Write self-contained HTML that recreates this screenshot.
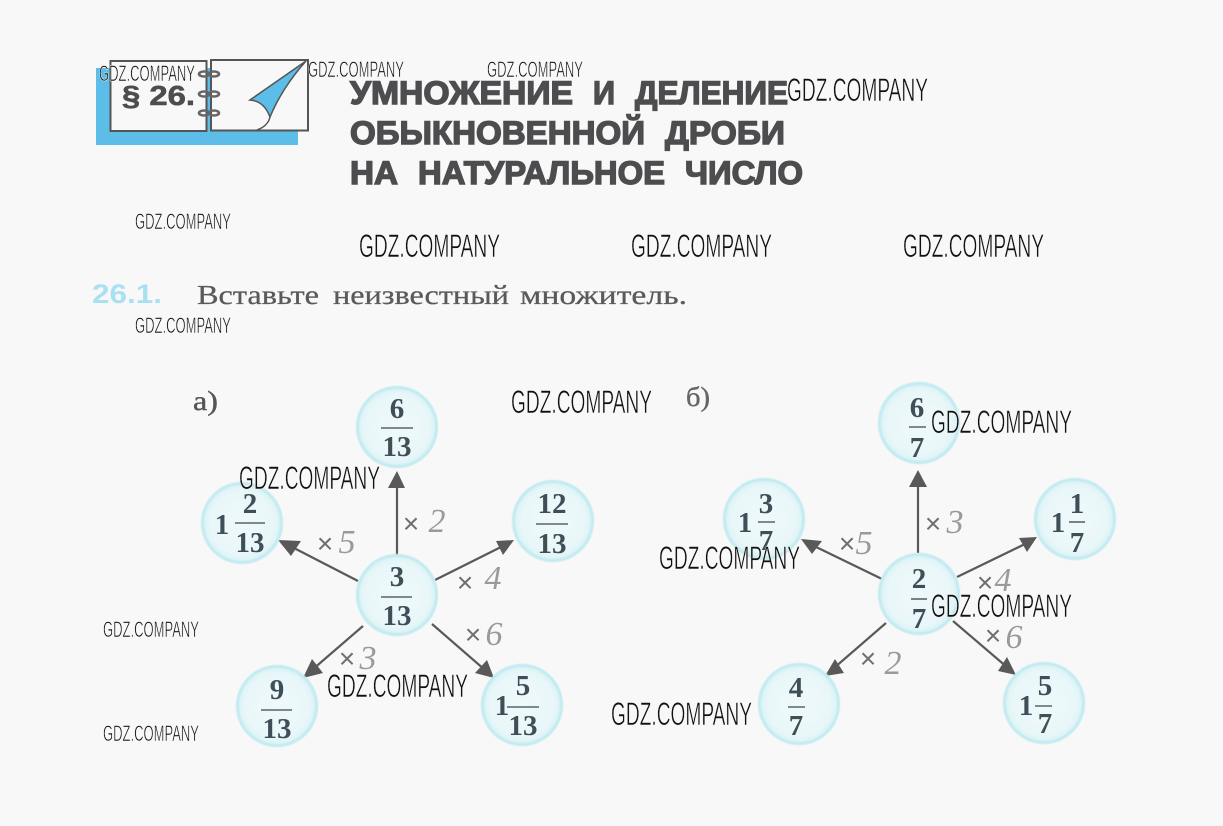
<!DOCTYPE html>
<html><head><meta charset="utf-8"><style>
html,body{margin:0;padding:0;background:#f8f8f8}
svg{display:block}
.w{font-family:"Liberation Sans",sans-serif;fill:#111;stroke:#f8f8f8;stroke-width:.55;font-weight:400}
.b{font-family:"Liberation Serif",serif;font-weight:700;fill:#3f4f57;font-size:29px;text-anchor:middle}
.t{font-family:"Liberation Sans",sans-serif;font-weight:700;fill:#4d4d4f;stroke:#4d4d4f;stroke-width:1.4;font-size:32px}
.x{font-family:"Liberation Sans",sans-serif;fill:#6f6f6f;font-size:28px;text-anchor:middle}
.h{font-family:"Liberation Serif",serif;font-style:italic;fill:#9a9a9a;font-size:34px;text-anchor:middle}
.s{font-family:"Liberation Serif",serif;font-size:27px;fill:#5a5a5a;stroke:#5a5a5a;stroke-width:.25}
</style></head><body>
<svg width="1223" height="826" viewBox="0 0 1223 826" xmlns="http://www.w3.org/2000/svg">
<defs>
<radialGradient id="g" cx="50%" cy="50%" r="50%"><stop offset="0" stop-color="#eff9fa"/><stop offset=".8" stop-color="#e9f7f9"/><stop offset="1" stop-color="#d8f2f6"/></radialGradient>
<filter id="bl" x="-10%" y="-10%" width="120%" height="120%"><feGaussianBlur stdDeviation=".6"/></filter>
<g id="c"><circle r="39.5" fill="url(#g)" stroke="#c4ebf1" stroke-width="3.2" filter="url(#bl)"/></g>
</defs>
<rect width="1223" height="826" fill="#f8f8f8"/>

<!-- header icon -->
<rect x="96" y="68" width="202" height="77" fill="#5cbde9"/>
<rect x="110.5" y="61" width="96" height="70" fill="#f8f8f8" stroke="#555" stroke-width="2"/>
<rect x="211" y="60" width="97" height="70.5" fill="#f8f8f8" stroke="#555" stroke-width="2"/>
<g fill="none" stroke="#666" stroke-width="2.6">
<ellipse cx="204" cy="74" rx="5" ry="2.5"/><ellipse cx="214" cy="74" rx="5" ry="2.5"/>
<ellipse cx="204" cy="94" rx="5" ry="2.5"/><ellipse cx="214" cy="94" rx="5" ry="2.5"/>
<ellipse cx="204" cy="113" rx="5" ry="2.5"/><ellipse cx="214" cy="113" rx="5" ry="2.5"/>
</g>
<text x="122" y="105" textLength="73" lengthAdjust="spacingAndGlyphs" style="font-family:'Liberation Sans',sans-serif;font-weight:700;font-size:28px;fill:#4d4d4f;stroke:#4d4d4f;stroke-width:.6">§ 26.</text>
<path d="M306 61 L250 100 Q264 101 270 117 Q282 88 306 61Z" fill="#5cbde9" stroke="#555" stroke-width="1.5"/>
<path d="M270 117 Q268 126 257 130" fill="none" stroke="#555" stroke-width="1.5"/>

<!-- title -->
<g class="t">
<text class="t" x="350" y="104" textLength="223" lengthAdjust="spacingAndGlyphs">УМНОЖЕНИЕ</text>
<text class="t" x="593" y="104" textLength="22" lengthAdjust="spacingAndGlyphs">И</text>
<text class="t" x="635" y="104" textLength="153" lengthAdjust="spacingAndGlyphs">ДЕЛЕНИЕ</text>
<text class="t" x="350" y="144" textLength="295" lengthAdjust="spacingAndGlyphs">ОБЫКНОВЕННОЙ</text>
<text class="t" x="665" y="144" textLength="120" lengthAdjust="spacingAndGlyphs">ДРОБИ</text>
<text class="t" x="350" y="184" textLength="48" lengthAdjust="spacingAndGlyphs">НА</text>
<text class="t" x="418" y="184" textLength="247" lengthAdjust="spacingAndGlyphs">НАТУРАЛЬНОЕ</text>
<text class="t" x="685" y="184" textLength="118" lengthAdjust="spacingAndGlyphs">ЧИСЛО</text>
</g>

<!-- task -->
<text x="92" y="303" textLength="70" lengthAdjust="spacingAndGlyphs" style="font-family:'Liberation Sans',sans-serif;font-weight:700;font-size:27px;fill:#a9e0f2">26.1.</text>
<text class="s" x="197" y="304" textLength="122" lengthAdjust="spacingAndGlyphs">Вставьте</text>
<text class="s" x="333" y="304" textLength="176" lengthAdjust="spacingAndGlyphs">неизвестный</text>
<text class="s" x="520" y="304" textLength="167" lengthAdjust="spacingAndGlyphs">множитель.</text>
<text x="193" y="410" textLength="25" lengthAdjust="spacingAndGlyphs" style="font-family:'Liberation Serif',serif;font-size:27px;fill:#555;stroke:#555;stroke-width:.4">а)</text>
<text x="686" y="406" textLength="24" lengthAdjust="spacingAndGlyphs" style="font-family:'Liberation Serif',serif;font-size:27px;fill:#666;stroke:#666;stroke-width:.4">б)</text>

<!-- arrows a -->
<g stroke="#595959" stroke-width="2.2" fill="#595959">
<line x1="397" y1="556" x2="397" y2="485"/><polygon points="397,471 388,488 405,488" stroke="none"/>
<line x1="358" y1="581" x2="292" y2="547"/><polygon points="278,540 301,541 291,556" stroke="none"/>
<line x1="435" y1="580" x2="503" y2="546"/><polygon points="514,540 496,541 503,555" stroke="none"/>
<line x1="363" y1="626" x2="312" y2="670"/><polygon points="303,678 312,659 323,673" stroke="none"/>
<line x1="432" y1="624" x2="485" y2="670"/><polygon points="494,678 487,660 475,673" stroke="none"/>
<!-- arrows b -->
<line x1="918" y1="553" x2="918" y2="485"/><polygon points="918,470 909,487 927,487" stroke="none"/>
<line x1="882" y1="579" x2="812" y2="545"/><polygon points="801,539 822,541 812,554" stroke="none"/>
<line x1="957" y1="577" x2="1025" y2="544"/><polygon points="1037,537 1019,538 1027,552" stroke="none"/>
<line x1="886" y1="623" x2="834" y2="668"/><polygon points="825,676 835,659 844,673" stroke="none"/>
<line x1="953" y1="621" x2="1008" y2="668"/><polygon points="1016,675 1007,657 998,671" stroke="none"/>
</g>

<!-- circles -->
<use href="#c" x="397" y="427"/><use href="#c" x="242" y="523"/><use href="#c" x="553" y="521"/>
<use href="#c" x="397" y="595"/><use href="#c" x="277" y="706"/><use href="#c" x="522" y="705"/>
<use href="#c" x="919" y="423"/><use href="#c" x="764" y="519"/><use href="#c" x="1075" y="519"/>
<use href="#c" x="919" y="594"/><use href="#c" x="799" y="704"/><use href="#c" x="1044" y="703"/>

<!-- fraction bars -->
<g stroke="#55666e" stroke-width="1.6">
<line x1="381" y1="428" x2="413" y2="428"/><line x1="235" y1="523" x2="265" y2="523"/><line x1="536" y1="524" x2="568" y2="524"/>
<line x1="381" y1="597" x2="412" y2="597"/><line x1="261" y1="710" x2="292" y2="710"/><line x1="507" y1="707" x2="539" y2="707"/>
<line x1="909" y1="427" x2="926" y2="427"/><line x1="758" y1="522" x2="775" y2="522"/><line x1="1069" y1="522" x2="1085" y2="522"/>
<line x1="911" y1="599" x2="927" y2="599"/><line x1="788" y1="707" x2="805" y2="707"/><line x1="1035" y1="706" x2="1052" y2="706"/>
</g>

<!-- numbers a -->
<text class="b" x="397" y="418">6</text><text class="b" x="397" y="456">13</text>
<text class="b" x="250" y="513">2</text><text class="b" x="250" y="552">13</text><text class="b" x="222" y="534">1</text>
<text class="b" x="552" y="513">12</text><text class="b" x="552" y="553">13</text>
<text class="b" x="397" y="586">3</text><text class="b" x="397" y="625">13</text>
<text class="b" x="277" y="699">9</text><text class="b" x="277" y="738">13</text>
<text class="b" x="523" y="695">5</text><text class="b" x="523" y="735">13</text><text class="b" x="502" y="715">1</text>
<!-- numbers b -->
<text class="b" x="917" y="417">6</text><text class="b" x="917" y="457">7</text>
<text class="b" x="766" y="513">3</text><text class="b" x="766" y="550">7</text><text class="b" x="745" y="532">1</text>
<text class="b" x="1077" y="513">1</text><text class="b" x="1077" y="552">7</text><text class="b" x="1058" y="532">1</text>
<text class="b" x="919" y="588">2</text><text class="b" x="919" y="628">7</text>
<text class="b" x="796" y="697">4</text><text class="b" x="796" y="735">7</text>
<text class="b" x="1045" y="695">5</text><text class="b" x="1045" y="733">7</text><text class="b" x="1026" y="715">1</text>

<!-- multipliers a -->
<text class="x" x="411" y="533">×</text><text class="h" x="437" y="532">2</text>
<text class="x" x="325" y="553">×</text><text class="h" x="347" y="553">5</text>
<text class="x" x="465" y="592">×</text><text class="h" x="493" y="589">4</text>
<text class="x" x="473" y="644">×</text><text class="h" x="494" y="645">6</text>
<text class="x" x="347" y="668">×</text><text class="h" x="368" y="669">3</text>
<!-- multipliers b -->
<text class="x" x="933" y="533">×</text><text class="h" x="955" y="533">3</text>
<text class="x" x="847" y="553">×</text><text class="h" x="864" y="554">5</text>
<text class="x" x="985" y="592">×</text><text class="h" x="1003" y="591">4</text>
<text class="x" x="993" y="645">×</text><text class="h" x="1014" y="648">6</text>
<text class="x" x="868" y="668">×</text><text class="h" x="893" y="674">2</text>

<!-- watermarks -->
<g>
<text class="w" x="99" y="81" font-size="22" textLength="96" lengthAdjust="spacingAndGlyphs">GDZ.COMPANY</text>
<text class="w" x="308" y="77" font-size="22" textLength="96" lengthAdjust="spacingAndGlyphs">GDZ.COMPANY</text>
<text class="w" x="487" y="77" font-size="22" textLength="96" lengthAdjust="spacingAndGlyphs">GDZ.COMPANY</text>
<text class="w" x="135" y="229" font-size="22" textLength="96" lengthAdjust="spacingAndGlyphs">GDZ.COMPANY</text>
<text class="w" x="135" y="333" font-size="22" textLength="96" lengthAdjust="spacingAndGlyphs">GDZ.COMPANY</text>
<text class="w" x="103" y="637" font-size="22" textLength="96" lengthAdjust="spacingAndGlyphs">GDZ.COMPANY</text>
<text class="w" x="103" y="741" font-size="22" textLength="96" lengthAdjust="spacingAndGlyphs">GDZ.COMPANY</text>
<text class="w" x="787" y="101" font-size="32" textLength="141" lengthAdjust="spacingAndGlyphs">GDZ.COMPANY</text>
<text class="w" x="359" y="257" font-size="32" textLength="141" lengthAdjust="spacingAndGlyphs">GDZ.COMPANY</text>
<text class="w" x="631" y="257" font-size="32" textLength="141" lengthAdjust="spacingAndGlyphs">GDZ.COMPANY</text>
<text class="w" x="903" y="257" font-size="32" textLength="141" lengthAdjust="spacingAndGlyphs">GDZ.COMPANY</text>
<text class="w" x="511" y="413" font-size="32" textLength="141" lengthAdjust="spacingAndGlyphs">GDZ.COMPANY</text>
<text class="w" x="931" y="433" font-size="32" textLength="141" lengthAdjust="spacingAndGlyphs">GDZ.COMPANY</text>
<text class="w" x="239" y="489" font-size="32" textLength="141" lengthAdjust="spacingAndGlyphs">GDZ.COMPANY</text>
<text class="w" x="659" y="569" font-size="32" textLength="141" lengthAdjust="spacingAndGlyphs">GDZ.COMPANY</text>
<text class="w" x="931" y="617" font-size="32" textLength="141" lengthAdjust="spacingAndGlyphs">GDZ.COMPANY</text>
<text class="w" x="327" y="697" font-size="32" textLength="141" lengthAdjust="spacingAndGlyphs">GDZ.COMPANY</text>
<text class="w" x="611" y="725" font-size="32" textLength="141" lengthAdjust="spacingAndGlyphs">GDZ.COMPANY</text>
</g>
</svg>
</body></html>
